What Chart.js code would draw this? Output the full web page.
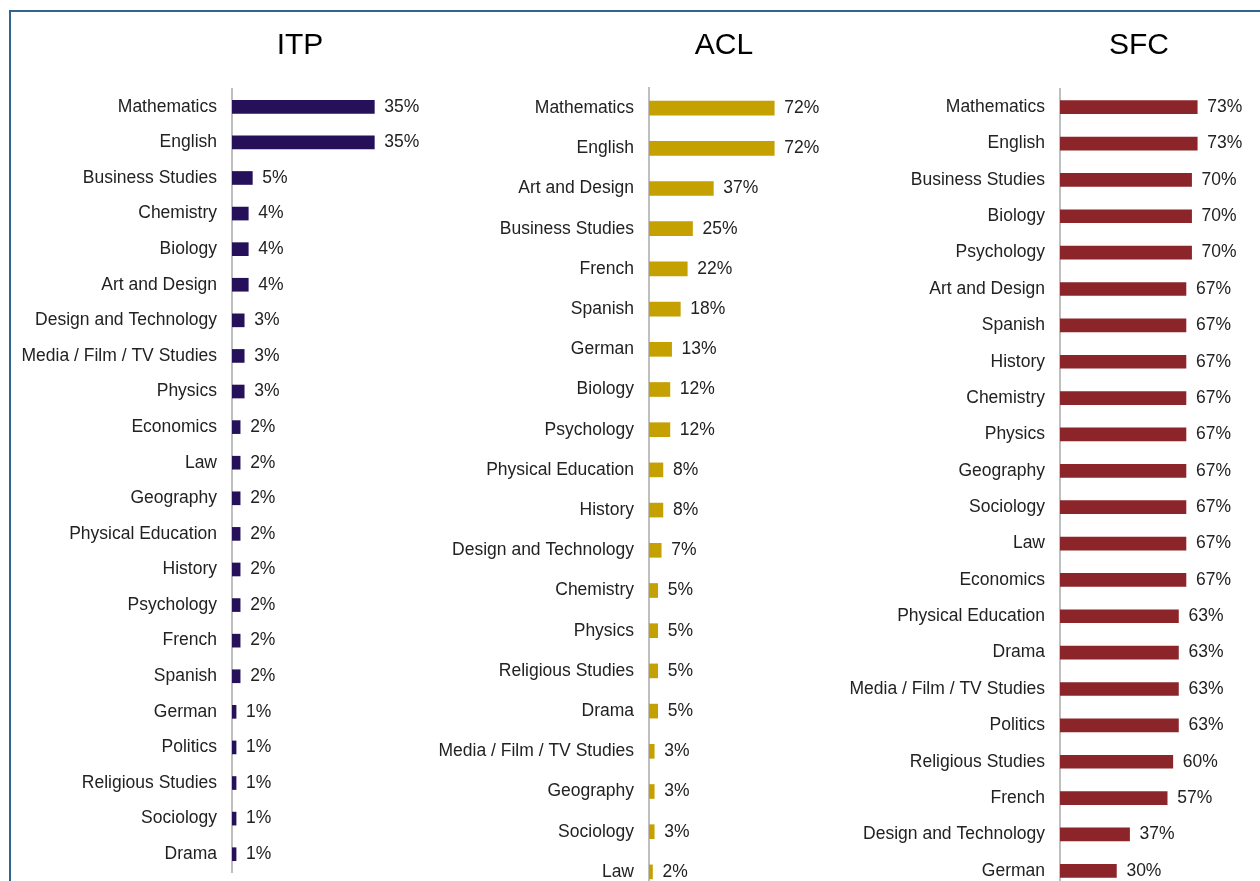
<!DOCTYPE html>
<html>
<head>
<meta charset="utf-8">
<script src="https://cdn.jsdelivr.net/npm/chart.js@4.4.1/dist/chart.umd.min.js"></script>
<style>
    html, body { margin: 0; padding: 0; background: #fff; overflow: hidden; width: 1260px; height: 881px; }
    #frame { position: absolute; left: 9px; top: 10px; width: 1400px; height: 1000px;
             border-left: 2px solid #2f6590; border-top: 2px solid #2f6590; }
    canvas { position: absolute; top: 0; }
</style>
</head>
<body>
<div id="frame"></div>
<canvas id="itp" width="596" height="930" style="left:2px"></canvas>
<canvas id="acl" width="598" height="930" style="left:425px"></canvas>
<canvas id="sfc" width="594" height="930" style="left:842px"></canvas>
<script>
const itpSubjects = ['Mathematics', 'English', 'Business Studies', 'Chemistry', 'Biology', 'Art and Design',
    'Design and Technology', 'Media / Film / TV Studies', 'Physics', 'Economics', 'Law', 'Geography',
    'Physical Education', 'History', 'Psychology', 'French', 'Spanish', 'German', 'Politics',
    'Religious Studies', 'Sociology', 'Drama'];
const itpValues = [35, 35, 5, 4, 4, 4, 3, 3, 3, 2, 2, 2, 2, 2, 2, 2, 2, 1, 1, 1, 1, 1];

const aclSubjects = ['Mathematics', 'English', 'Art and Design', 'Business Studies', 'French', 'Spanish',
    'German', 'Biology', 'Psychology', 'Physical Education', 'History', 'Design and Technology',
    'Chemistry', 'Physics', 'Religious Studies', 'Drama', 'Media / Film / TV Studies', 'Geography',
    'Sociology', 'Law'];
const aclValues = [72, 72, 37, 25, 22, 18, 13, 12, 12, 8, 8, 7, 5, 5, 5, 5, 3, 3, 3, 2];

const sfcSubjects = ['Mathematics', 'English', 'Business Studies', 'Biology', 'Psychology', 'Art and Design',
    'Spanish', 'History', 'Chemistry', 'Physics', 'Geography', 'Sociology', 'Law', 'Economics',
    'Physical Education', 'Drama', 'Media / Film / TV Studies', 'Politics', 'Religious Studies',
    'French', 'Design and Technology', 'German'];
const sfcValues = [73, 73, 70, 70, 70, 67, 67, 67, 67, 67, 67, 67, 67, 67, 63, 63, 63, 63, 60, 57, 37, 30];

const FONT = '"Liberation Sans", Arial, sans-serif';
const TEXT = '#222222';

// value labels just right of each bar
const barLabels = {
    id: 'barLabels',
    afterDatasetsDraw(chart) {
        const ctx = chart.ctx;
        const values = chart.data.datasets[0].data;
        ctx.save();
        ctx.font = '17.5px ' + FONT;
        ctx.fillStyle = TEXT;
        ctx.textBaseline = 'middle';
        ctx.textAlign = 'left';
        chart.getDatasetMeta(0).data.forEach((bar, i) => {
            ctx.fillText(values[i] + '%', bar.x + 10, bar.y);
        });
        ctx.restore();
    }
};

function makeChart(id, title, labels, values, color, cfg) {
    const ctx = document.getElementById(id).getContext('2d');
    return new Chart(ctx, {
        type: 'bar',
        data: {
            labels: labels,
            datasets: [{
                data: values,
                backgroundColor: color,
                barThickness: cfg.bar
            }]
        },
        options: {
            indexAxis: 'y',
            responsive: false,
            animation: false,
            devicePixelRatio: 1,
            layout: {padding: {left: 0, right: 0, top: 0, bottom: cfg.padBottom}},
            scales: {
                x: {display: false, min: 0, max: cfg.max},
                y: {
                    grid: {display: false, drawTicks: false},
                    border: {display: true, color: '#bfbfbf', width: 2},
                    ticks: {color: TEXT, padding: 15, font: {family: FONT, size: 17.5}},
                    afterFit: function (scale) {
                        scale.width = cfg.axisWidth;
                    }
                }
            },
            plugins: {
                legend: {display: false},
                tooltip: {enabled: false},
                title: {
                    display: true,
                    text: title,
                    color: '#000',
                    font: {family: FONT, size: 30, weight: 'normal'},
                    padding: {top: 28, bottom: cfg.titleGap}
                }
            }
        },
        plugins: [barLabels]
    });
}

makeChart('itp', 'ITP', itpSubjects, itpValues, '#26105a',
    {bar: 13, max: 90, axisWidth: 230, titleGap: 25, padBottom: 58});
makeChart('acl', 'ACL', aclSubjects, aclValues, '#c4a000',
    {bar: 14, max: 215, axisWidth: 224, titleGap: 24, padBottom: 38});
makeChart('sfc', 'SFC', sfcSubjects, sfcValues, '#8b2529',
    {bar: 13, max: 200, axisWidth: 218, titleGap: 25, padBottom: 41});
</script>
</body>
</html>
